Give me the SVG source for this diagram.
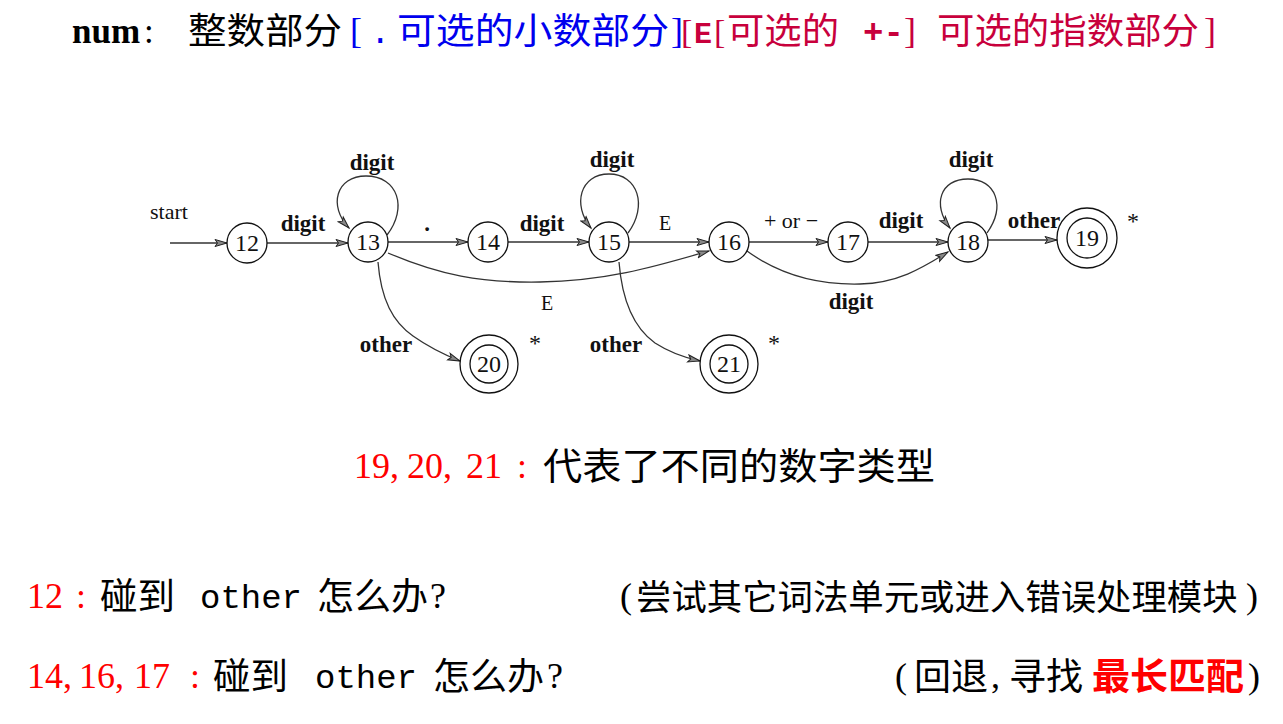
<svg xmlns="http://www.w3.org/2000/svg" width="1283" height="724" viewBox="0 0 1283 724">
<defs>
<marker id="arr" markerUnits="userSpaceOnUse" markerWidth="16" markerHeight="10" refX="13" refY="5" orient="auto">
<path d="M1,1.5 L13,5 L1,8.5 L3.5,5 z" fill="#888" stroke="#222" stroke-width="1"/>
</marker>
</defs>
<style>
.cjk{font-family:"Noto Sans CJK SC",sans-serif;}
.ser{font-family:"Liberation Serif","Noto Sans CJK SC",serif;}
.mono{font-family:"Liberation Mono",monospace;}
.blk{fill:#000;}
.blue{fill:#0000EE;}
.crim{fill:#C8003C;}
.red{fill:#FF0000;}
.node{fill:#fff;stroke:#111;stroke-width:1.3;}
.nlab{font-family:"Liberation Serif",serif;font-size:24px;text-anchor:middle;fill:#111;}
.elab{font-family:"Liberation Serif",serif;font-size:23px;font-weight:bold;text-anchor:middle;fill:#111;}
.elabr{font-family:"Liberation Serif",serif;font-size:20px;text-anchor:middle;fill:#111;}
.edge{fill:none;stroke:#333;stroke-width:1.3;marker-end:url(#arr);}
.big{font-size:37px;}
</style>
<rect width="1283" height="724" fill="#fff"/>

<g id="title">
<text x="72" y="43" class="ser blk" font-size="35" font-weight="bold">num</text>
<text x="144" y="43" class="ser blk" font-size="35">:</text>
<text x="188" y="44" class="cjk blk" font-size="36" textLength="154" lengthAdjust="spacingAndGlyphs">整数部分</text>
<text x="350" y="43" class="ser blue" font-size="36">[</text>
<text x="370" y="43" class="mono blue" font-size="34">.</text>
<text x="397" y="44" class="cjk blue" font-size="36" textLength="272" lengthAdjust="spacingAndGlyphs">可选的小数部分</text>
<text x="671" y="43" class="ser blue" font-size="36">]</text>
<text x="681" y="43" class="ser crim" font-size="34">[</text>
<text x="694" y="43" class="mono crim" font-size="30" font-weight="bold">E</text>
<text x="714" y="43" class="ser crim" font-size="34">[</text>
<text x="727" y="44" class="cjk crim" font-size="36" textLength="112" lengthAdjust="spacingAndGlyphs">可选的</text>
<text x="863" y="43" class="mono crim" font-size="34" font-weight="bold">+-</text>
<text x="904" y="43" class="ser crim" font-size="36">]</text>
<text x="937" y="44" class="cjk crim" font-size="36" textLength="262" lengthAdjust="spacingAndGlyphs">可选的指数部分</text>
<text x="1204" y="43" class="ser crim" font-size="36">]</text>
</g>

<g id="connectors">
<path class="edge" d="M170,243 L227,243"/>
<path class="edge" d="M267,243 L348,243"/>
<path class="edge" d="M388,242 L468,242"/>
<path class="edge" d="M508,242 L589,242"/>
<path class="edge" d="M629,242 L709,242"/>
<path class="edge" d="M749,242 L828,242"/>
<path class="edge" d="M868,242 L948,242"/>
<path class="edge" d="M988,240 L1057,240"/>
<path class="edge" d="M387,235 C408,208 398,176 366,176 C336,176 328,206 349,228"/>
<path class="edge" d="M628,233 C648,206 638,174 609,174 C580,174 572,205 591,228"/>
<path class="edge" d="M987,233 C1006,206 996,179 968,179 C940,179 932,205 950,228"/>
<path class="edge" d="M388,253 C440,275 480,283 540,282 C610,281 660,265 709,251"/>
<path class="edge" d="M747,251 C780,275 820,285 860,284 C900,283 925,266 948,252"/>
<path class="edge" d="M378,262 C381,300 393,322 413,336 C430,348 445,355 460,361"/>
<path class="edge" d="M619,262 C622,300 634,328 655,343 C672,354 686,358 700,361"/>
<text x="169" y="219" class="elabr" style="font-size:22px">start</text>
<text x="303" y="231" class="elab">digit</text>
<text x="372" y="170" class="elab">digit</text>
<text x="427" y="231" class="elab">.</text>
<text x="542" y="231" class="elab">digit</text>
<text x="612" y="167" class="elab">digit</text>
<text x="665" y="230" class="elabr">E</text>
<text x="791" y="228" class="elabr" style="font-size:22px">+ or −</text>
<text x="901" y="228" class="elab">digit</text>
<text x="971" y="167" class="elab">digit</text>
<text x="1034" y="228" class="elab">other</text>
<text x="547" y="310" class="elabr">E</text>
<text x="851" y="309" class="elab">digit</text>
<text x="386" y="352" class="elab">other</text>
<text x="616" y="352" class="elab">other</text>
</g>

<g id="n12"><circle class="node" cx="247" cy="243" r="20"/><text class="nlab" x="247" y="251">12</text></g>
<g id="n13"><circle class="node" cx="368" cy="242" r="20"/><text class="nlab" x="368" y="250">13</text></g>
<g id="n14"><circle class="node" cx="488" cy="242" r="20"/><text class="nlab" x="488" y="250">14</text></g>
<g id="n15"><circle class="node" cx="609" cy="242" r="20"/><text class="nlab" x="609" y="250">15</text></g>
<g id="n16"><circle class="node" cx="729" cy="242" r="20"/><text class="nlab" x="729" y="250">16</text></g>
<g id="n17"><circle class="node" cx="848" cy="242" r="20"/><text class="nlab" x="848" y="250">17</text></g>
<g id="n18"><circle class="node" cx="968" cy="242" r="20"/><text class="nlab" x="968" y="250">18</text></g>
<g id="n19"><circle class="node" cx="1087" cy="238" r="30"/><circle class="node" cx="1087" cy="238" r="20"/><text class="nlab" x="1087" y="246">19</text><text class="elabr" x="1133" y="229" style="font-size:24px">*</text></g>
<g id="n20"><circle class="node" cx="489" cy="364" r="29"/><circle class="node" cx="489" cy="364" r="19"/><text class="nlab" x="489" y="372">20</text><text class="elabr" x="535" y="351" style="font-size:24px">*</text></g>
<g id="n21"><circle class="node" cx="729" cy="364" r="29"/><circle class="node" cx="729" cy="364" r="19"/><text class="nlab" x="729" y="372">21</text><text class="elabr" x="774" y="351" style="font-size:24px">*</text></g>

<g id="notes">
<text class="ser red" font-size="36" y="478"><tspan x="354">19,</tspan><tspan x="407">20,</tspan><tspan x="466">21</tspan><tspan x="517">:</tspan></text>
<text x="543" y="480" class="cjk blk big" textLength="392" lengthAdjust="spacingAndGlyphs">代表了不同的数字类型</text>

<text class="ser red" font-size="36" y="608"><tspan x="27">12</tspan><tspan x="76">:</tspan></text>
<text x="100" y="610" class="cjk blk big" textLength="75" lengthAdjust="spacingAndGlyphs">碰到</text>
<text x="200" y="608" class="mono blk" font-size="34">other</text>
<text x="317" y="610" class="cjk blk big" textLength="111" lengthAdjust="spacingAndGlyphs">怎么办</text>
<text x="430" y="608" class="ser blk" font-size="36">?</text>
<text x="620" y="608" class="ser blk" font-size="36">(</text>
<text x="636" y="610" class="cjk blk" font-size="35.4">尝试其它词法单元或进入错误处理模块</text>
<text x="1246" y="608" class="ser blk" font-size="36">)</text>

<text class="ser red" font-size="36" y="688"><tspan x="27">14,</tspan><tspan x="79">16,</tspan><tspan x="134">17</tspan><tspan x="190">:</tspan></text>
<text x="213" y="690" class="cjk blk big" textLength="75" lengthAdjust="spacingAndGlyphs">碰到</text>
<text x="315" y="688" class="mono blk" font-size="34">other</text>
<text x="433" y="690" class="cjk blk big" textLength="111" lengthAdjust="spacingAndGlyphs">怎么办</text>
<text x="547" y="688" class="ser blk" font-size="36">?</text>
<text x="895" y="688" class="ser blk" font-size="36">(</text>
<text x="914" y="690" class="cjk blk big" textLength="74" lengthAdjust="spacingAndGlyphs">回退</text>
<text x="991" y="688" class="ser blk" font-size="36">,</text>
<text x="1009" y="690" class="cjk blk big" textLength="74" lengthAdjust="spacingAndGlyphs">寻找</text>
<text x="1092" y="690" class="cjk red big" font-weight="bold" textLength="152" lengthAdjust="spacingAndGlyphs">最长匹配</text>
<text x="1248" y="688" class="ser blk" font-size="36">)</text>
</g>
</svg>
